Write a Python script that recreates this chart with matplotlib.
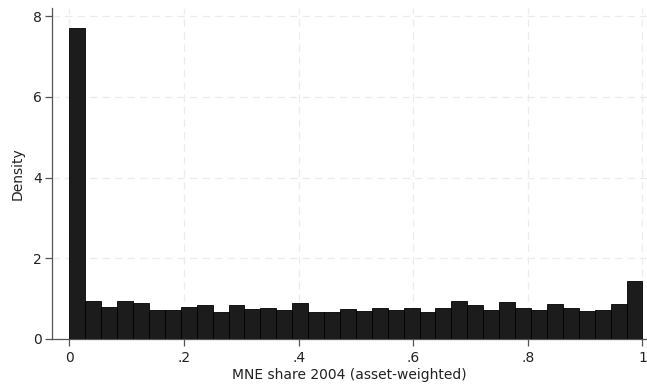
import numpy as np
import matplotlib
matplotlib.use("Agg")
import matplotlib.pyplot as plt

# Histogram of MNE share (36 equal-width bins on [0, 1]), density scale
bin_edges = np.linspace(0.0, 1.0, 37)
density = [
    7.70, 0.93, 0.79, 0.95, 0.90, 0.72, 0.73, 0.80, 0.85, 0.66,
    0.85, 0.75, 0.77, 0.73, 0.89, 0.67, 0.67, 0.74, 0.69, 0.77,
    0.72, 0.77, 0.66, 0.76, 0.94, 0.85, 0.72, 0.91, 0.77, 0.72,
    0.86, 0.77, 0.69, 0.72, 0.86, 1.43,
]
x_ticks = [0, 0.2, 0.4, 0.6, 0.8, 1.0]
x_tick_labels = ["0", ".2", ".4", ".6", ".8", "1"]
y_ticks = [0, 2, 4, 6, 8]
y_tick_labels = ["0", "2", "4", "6", "8"]

fig = plt.figure(figsize=(6.47, 3.84), dpi=100)
ax = fig.add_axes([52 / 647, 1 - 339 / 384, (647 - 52) / 647, (339 - 8) / 384])

lefts = bin_edges[:-1]
widths = np.diff(bin_edges)
ax.bar(lefts, density, width=widths, align="edge", color="#1c1c1c",
       edgecolor="#000000", linewidth=0.6, zorder=3)

ax.set_xlim(-0.0302, 1.0079)
ax.set_ylim(0, 8.2)
ax.set_xticks(x_ticks)
ax.set_xticklabels(x_tick_labels)
ax.set_yticks(y_ticks)
ax.set_yticklabels(y_tick_labels)

ax.grid(True, color="#ececec", linestyle=(0, (6, 4)), linewidth=0.9, zorder=0)
for side in ("top", "right"):
    ax.spines[side].set_visible(False)
for side in ("left", "bottom"):
    ax.spines[side].set_color("#555555")
    ax.spines[side].set_linewidth(0.9)
ax.tick_params(axis="both", direction="out", length=5, width=0.9,
               color="#555555", labelsize=10, labelcolor="#222222", pad=2.5)
ax.tick_params(axis="x", pad=4)

ax.set_xlabel("MNE share 2004 (asset-weighted)", fontsize=10, color="#222222", labelpad=2)
ax.set_ylabel("Density", fontsize=10, color="#222222", labelpad=6)

fig.savefig("out.png", dpi=100)
